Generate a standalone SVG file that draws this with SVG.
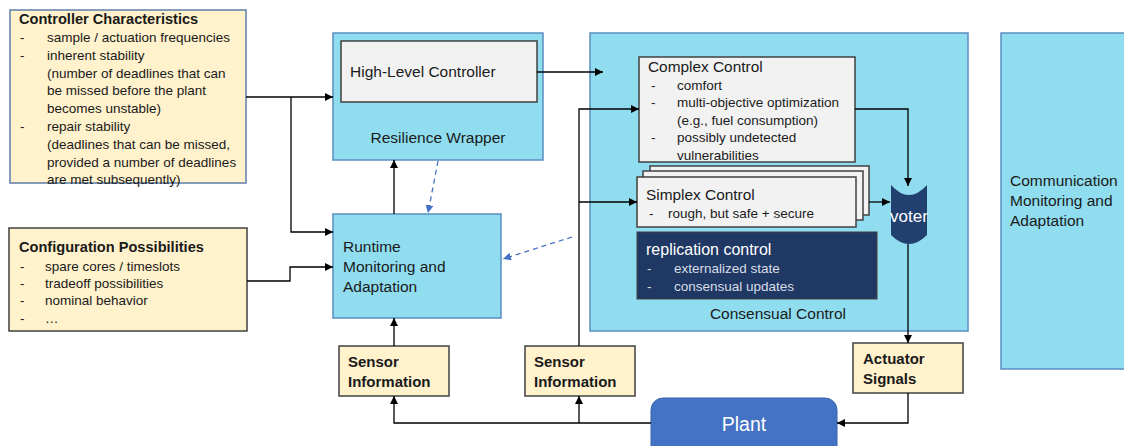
<svg xmlns="http://www.w3.org/2000/svg" width="1124" height="446" viewBox="0 0 1124 446">
<style>
text{font-family:"Liberation Sans",Arial,sans-serif;fill:#1a1a1a}
.tan{fill:#FFF2CC;stroke:#404040;stroke-width:1.5}
.blue{fill:#90DDF0;stroke:#5B8DBF;stroke-width:1.5}
.grey{fill:#F2F2F2;stroke:#404040;stroke-width:1.5}
.b{font-weight:bold}
.s{font-size:13.5px}
.m{font-size:15.5px}
.w{fill:#ffffff}
.lt{fill:#D9DEE8}
.c{stroke:#000;stroke-width:1.3;fill:none;marker-end:url(#ah)}
.d{stroke:#4472C4;stroke-width:1.3;fill:none;stroke-dasharray:5 4;marker-end:url(#ahb)}
</style>
<defs>
<marker id="ah" viewBox="0 0 10 10" refX="10" refY="5" markerWidth="8" markerHeight="8" markerUnits="userSpaceOnUse" orient="auto"><path d="M0,0 L10,5 L0,10 z" fill="#000"/></marker>
<marker id="ahb" viewBox="0 0 10 10" refX="10" refY="5" markerWidth="8" markerHeight="8" markerUnits="userSpaceOnUse" orient="auto"><path d="M0,0 L10,5 L0,10 z" fill="#4472C4"/></marker>
</defs>
<rect width="1124" height="446" fill="#ffffff"/>

<g id="controller-characteristics">
<rect class="tan" x="10" y="10" width="236" height="173" style="stroke:#5F7FA8"/>
<text x="19" y="24" class="b" font-size="14.6">Controller Characteristics</text>
<g class="s">
<text x="20" y="42">-</text><text x="47" y="42">sample / actuation frequencies</text>
<text x="20" y="60">-</text><text x="47" y="60">inherent stability</text>
<text x="47" y="78">(number of deadlines that can</text>
<text x="47" y="95">be missed before the plant</text>
<text x="47" y="113">becomes unstable)</text>
<text x="20" y="131">-</text><text x="47" y="131">repair stability</text>
<text x="47" y="149">(deadlines that can be missed,</text>
<text x="47" y="167">provided a number of deadlines</text>
<text x="47" y="184">are met subsequently)</text>
</g>
</g>

<g id="configuration-possibilities">
<rect class="tan" x="9" y="228" width="238" height="103"/>
<text x="19" y="252" class="b" font-size="14.6">Configuration Possibilities</text>
<g class="s">
<text x="20" y="271">-</text><text x="45" y="271">spare cores / timeslots</text>
<text x="20" y="288">-</text><text x="45" y="288">tradeoff possibilities</text>
<text x="20" y="305">-</text><text x="45" y="305">nominal behavior</text>
<text x="20" y="323">-</text><text x="45" y="323">…</text>
</g>
</g>

<g id="resilience-wrapper">
<rect class="blue" x="333" y="33" width="210" height="127"/>
<text x="438" y="143" class="m" text-anchor="middle">Resilience Wrapper</text>
</g>
<g id="high-level-controller">
<rect class="grey" x="341" y="41" width="196" height="61"/>
<text x="350" y="77" class="m">High-Level Controller</text>
</g>

<g id="runtime-monitoring">
<rect class="blue" x="333" y="214" width="168" height="104"/>
<text x="343" y="252" class="m">Runtime</text>
<text x="343" y="272" class="m">Monitoring and</text>
<text x="343" y="292" class="m">Adaptation</text>
</g>

<g id="consensual-control">
<rect class="blue" x="590" y="33" width="378" height="298"/>
<text x="778" y="319" class="m" text-anchor="middle">Consensual Control</text>
</g>

<g id="complex-control">
<rect class="grey" x="639" y="57" width="216" height="105"/>
<text x="648" y="72" font-size="15.4">Complex Control</text>
<g class="s">
<text x="651" y="90">-</text><text x="677" y="90">comfort</text>
<text x="651" y="107">-</text><text x="677" y="107">multi-objective optimization</text>
<text x="677" y="125">(e.g., fuel consumption)</text>
<text x="651" y="142">-</text><text x="677" y="142">possibly undetected</text>
<text x="677" y="160">vulnerabilities</text>
</g>
</g>

<g id="simplex-control">
<rect class="grey" x="650" y="166" width="219" height="49"/>
<rect class="grey" x="643" y="171" width="220" height="49"/>
<rect class="grey" x="637" y="177" width="219" height="50"/>
<text x="646" y="200" font-size="15.4">Simplex Control</text>
<text x="649" y="218" class="s">-</text><text x="668" y="218" class="s">rough, but safe + secure</text>
</g>

<g id="replication-control">
<rect x="637" y="232" width="240" height="67" fill="#1F3864" stroke="#404040" stroke-width="1"/>
<text x="646" y="255" font-size="16" class="w">replication control</text>
<text x="647" y="273" class="s lt">-</text><text x="674" y="273" class="s lt">externalized state</text>
<text x="647" y="291" class="s lt">-</text><text x="674" y="291" class="s lt">consensual updates</text>
</g>

<g id="voter">
<path d="M891,185 Q909,205 927,185 V235 Q909,253 891,235 Z" fill="#22406F"/>
<text x="909" y="222" font-size="17" class="w" text-anchor="middle">voter</text>
</g>

<g id="communication-monitoring">
<rect class="blue" x="1001" y="33" width="130" height="336"/>
<text x="1010" y="186" class="m">Communication</text>
<text x="1010" y="206" class="m">Monitoring and</text>
<text x="1010" y="226" class="m">Adaptation</text>
</g>

<g id="sensor-information-1">
<rect class="tan" x="339" y="346" width="110" height="50"/>
<text x="348" y="367" class="b" font-size="15">Sensor</text>
<text x="348" y="387" class="b" font-size="15">Information</text>
</g>
<g id="sensor-information-2">
<rect class="tan" x="525" y="346" width="110" height="50"/>
<text x="534" y="367" class="b" font-size="15">Sensor</text>
<text x="534" y="387" class="b" font-size="15">Information</text>
</g>
<g id="actuator-signals">
<rect class="tan" x="853" y="343" width="110" height="50"/>
<text x="863" y="364" class="b" font-size="15">Actuator</text>
<text x="863" y="384" class="b" font-size="15">Signals</text>
</g>

<g id="plant">
<rect x="651" y="398" width="186" height="62" rx="12" fill="#4472C4" stroke="#3A63AE" stroke-width="1"/>
<text x="744" y="431" font-size="19.5" class="w" text-anchor="middle">Plant</text>
</g>

<g id="connectors">
<path class="c" d="M246,97 H333"/>
<path class="c" d="M291,97 V232 H333"/>
<path class="c" d="M247,281 H290 V267 H333"/>
<path class="c" d="M394,214 V160"/>
<path class="c" d="M537,72 H603"/>
<path class="d" d="M438,161 L428,213"/>
<path class="d" d="M572,237 L503,259"/>
<path class="c" d="M579,346 V109 H639"/>
<path class="c" d="M579,202 H637"/>
<path class="c" d="M855,109 H908 V186"/>
<path class="c" d="M869,202 H890"/>
<path class="c" d="M908,244 V343"/>
<path class="c" d="M908,393 V423 H837"/>
<path class="c" d="M651,423 H394 V396"/>
<path class="c" d="M579,423 V396"/>
<path class="c" d="M394,346 V318"/>
</g>
</svg>
